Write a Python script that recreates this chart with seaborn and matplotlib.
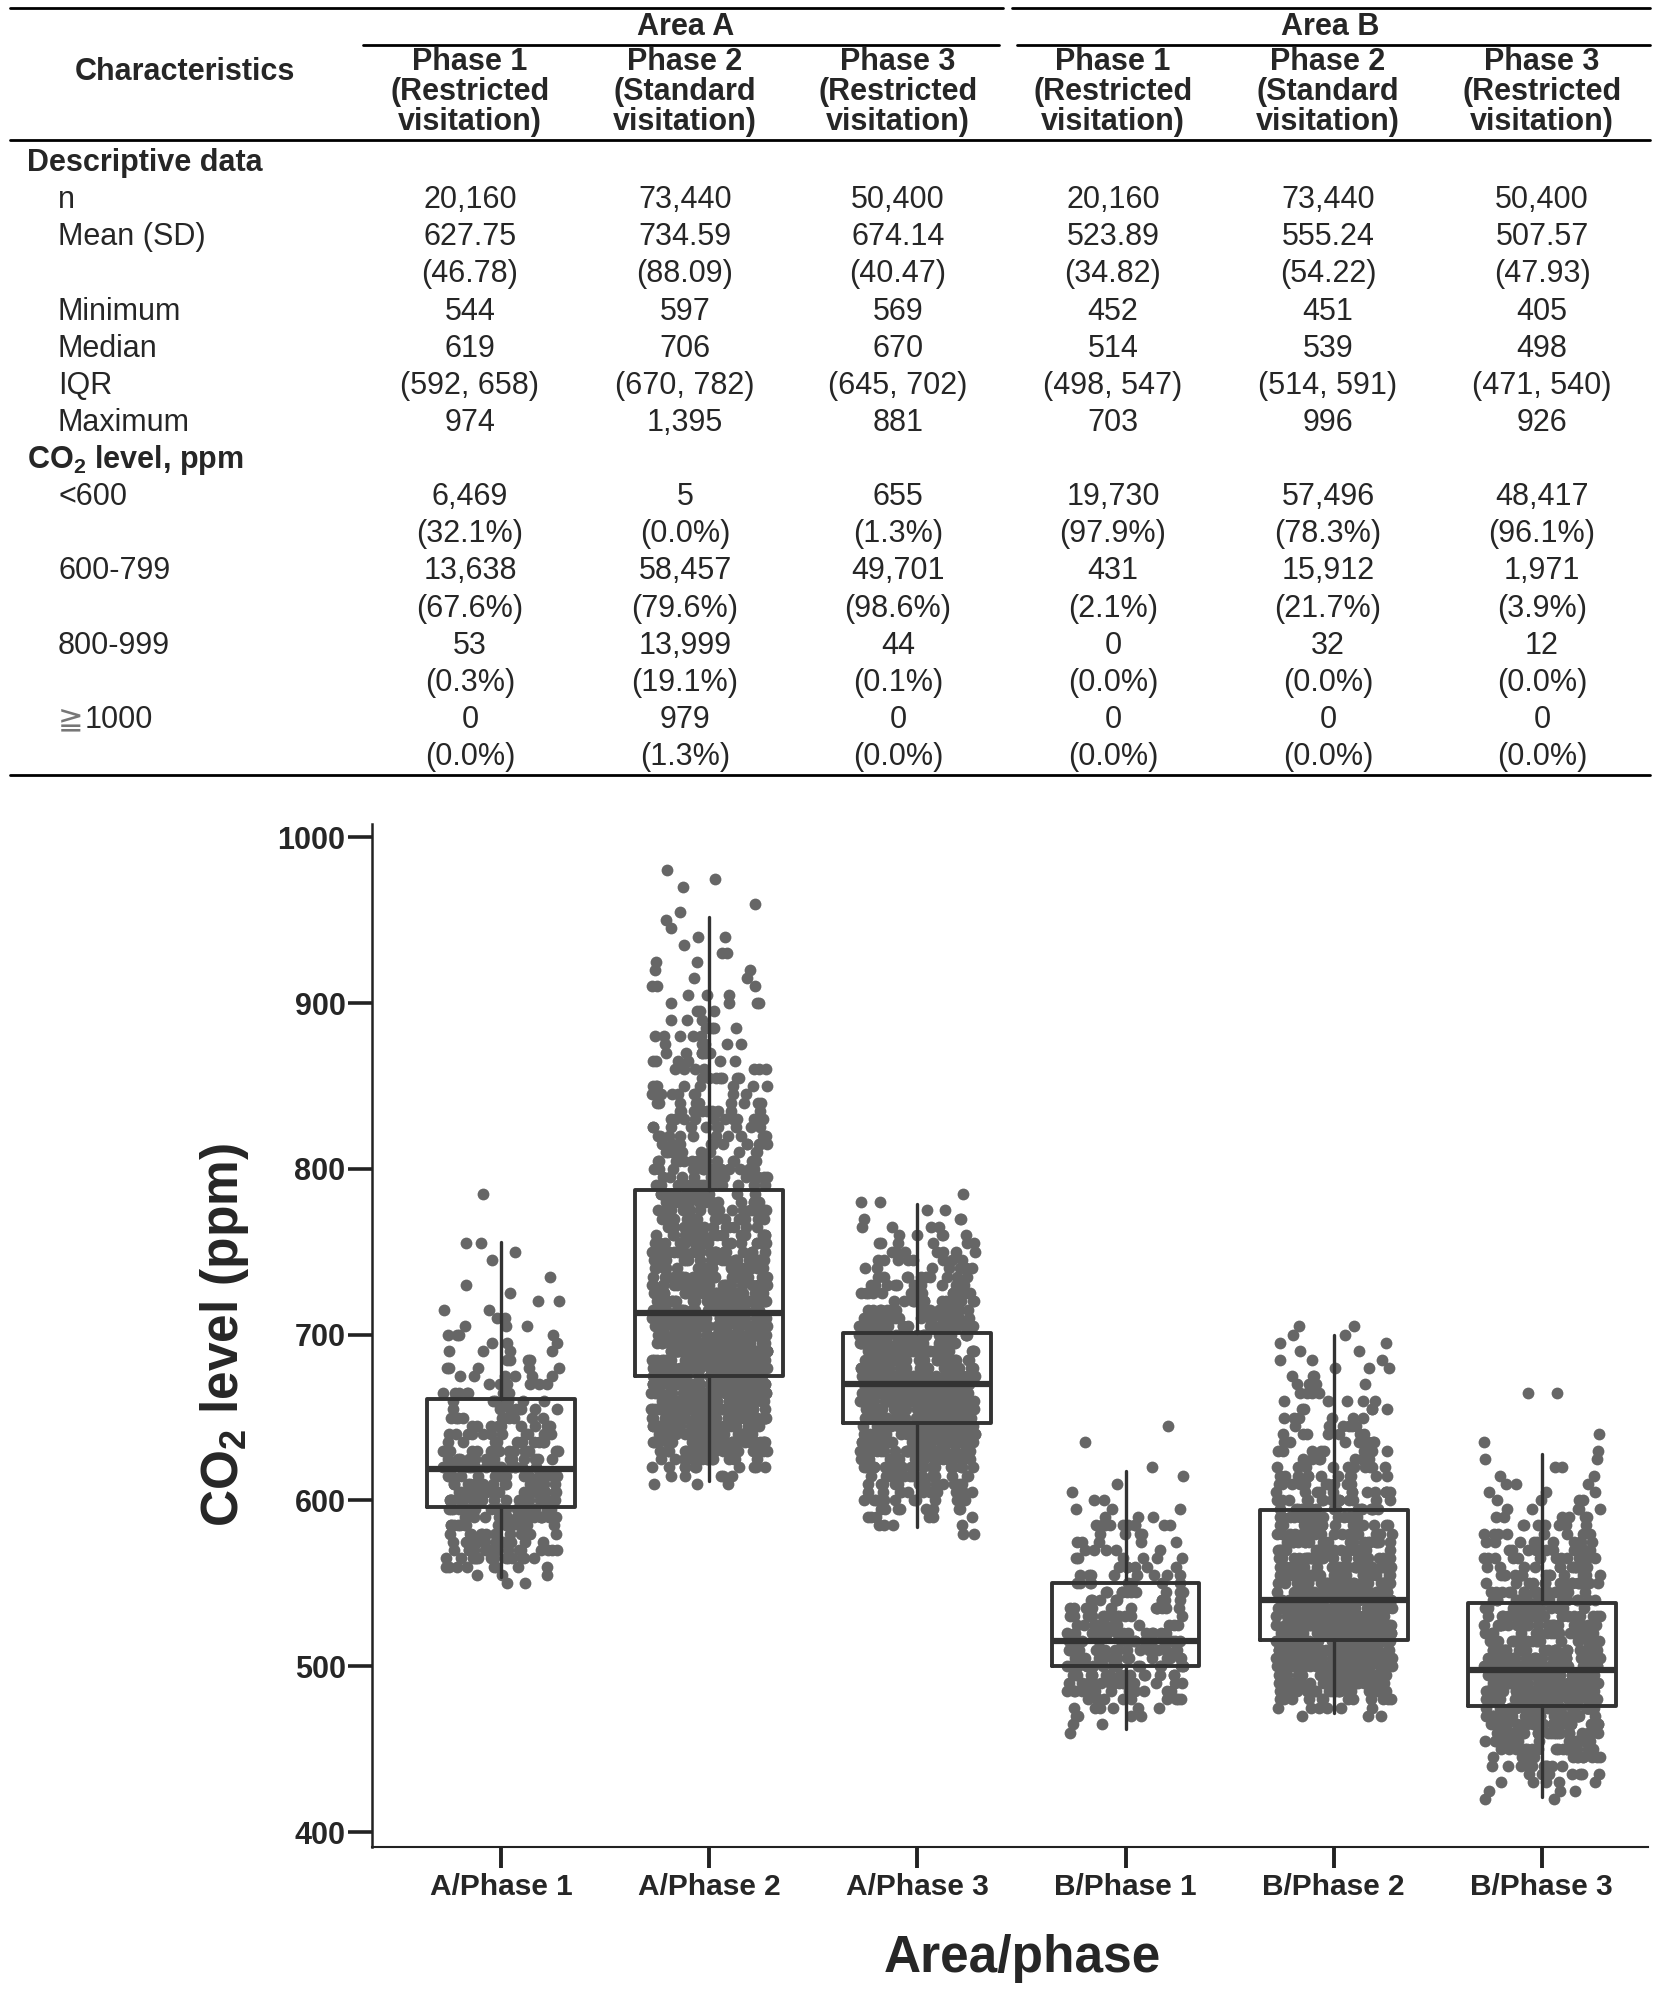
import numpy as np
import pandas as pd
import matplotlib
matplotlib.use('Agg')
import matplotlib.pyplot as plt
import seaborn as sns
from matplotlib.lines import Line2D

# ---- data for the box plot ----
groups = ['A/Phase 1', 'A/Phase 2', 'A/Phase 3', 'B/Phase 1', 'B/Phase 2', 'B/Phase 3']

box_q1 = [596, 675, 647, 500, 516, 476]
box_med = [619, 713, 670, 515, 540, 498]
box_q3 = [661, 787, 701, 550, 594, 538]
whisk_lo = [554, 612, 584, 462, 472, 421]
whisk_hi = [756, 952, 779, 618, 700, 628]

# jittered points: number of points read at each 5 ppm level
a1_start = 550
a1_counts = [2, 3, 8, 14, 16, 14, 14, 16, 18, 20, 20, 20, 18, 20, 20, 16, 14, 12, 12, 10,
             10, 8, 8, 7, 6, 6, 5, 4, 4, 3, 4, 3, 2, 2, 2, 1, 1, 1, 0, 1, 1, 2, 0, 0, 0, 0, 0, 1]
a2_start = 610
a2_counts = [3, 5, 10, 15, 22, 28, 32, 36, 40, 42, 44, 46, 46, 46, 46, 44, 42, 42, 40, 40,
             38, 36, 34, 30, 28, 26, 24, 22, 22, 20, 20, 18, 18, 16, 16, 15, 15, 14, 14, 13,
             12, 12, 11, 10, 10, 9, 9, 8, 8, 7, 7, 6, 6, 5, 5, 4, 3, 3, 4, 3,
             3, 2, 2, 2, 2, 1, 2, 1, 1, 1, 1, 0, 1, 1, 1]
a3_start = 580
a3_counts = [2, 4, 6, 8, 10, 12, 14, 16, 18, 22, 26, 30, 32, 34, 36, 38, 38, 38, 38, 36,
             34, 32, 28, 26, 24, 22, 20, 18, 16, 14, 12, 10, 9, 8, 7, 6, 5, 4, 3, 2, 2, 1]
b1_start = 460
b1_counts = [1, 2, 4, 6, 10, 12, 14, 16, 18, 18, 18, 18, 16, 14, 12, 12, 10, 10, 8, 8,
             6, 6, 5, 5, 4, 10, 3, 3, 2, 1, 1, 1, 1, 0, 0, 1, 0, 1]
b2_start = 470
b2_counts = [3, 6, 12, 20, 28, 34, 40, 44, 46, 48, 48, 46, 44, 40, 36, 32, 30, 28, 26, 24,
             22, 20, 18, 17, 16, 15, 14, 13, 12, 11, 10, 9, 8, 8, 7, 6, 6, 5, 5, 4,
             4, 3, 3, 3, 2, 2, 2, 2]
b3_start = 420
b3_counts = [2, 3, 5, 7, 10, 13, 16, 20, 24, 28, 32, 34, 36, 36, 36, 34, 32, 30, 28, 26,
             24, 22, 20, 18, 18, 16, 15, 14, 13, 12, 11, 10, 8, 7, 6, 5, 4, 3, 3, 2,
             2, 2, 1, 1, 1, 0, 0, 0, 0, 2]

# ---- data for the table ----
area_labels = ['Area A', 'Area B']
phase_head = [['Phase 1', '(Restricted', 'visitation)'],
              ['Phase 2', '(Standard', 'visitation)'],
              ['Phase 3', '(Restricted', 'visitation)']] * 2
n_vals = ['20,160', '73,440', '50,400', '20,160', '73,440', '50,400']
mean_vals = ['627.75', '734.59', '674.14', '523.89', '555.24', '507.57']
sd_vals = ['(46.78)', '(88.09)', '(40.47)', '(34.82)', '(54.22)', '(47.93)']
min_vals = ['544', '597', '569', '452', '451', '405']
median_vals = ['619', '706', '670', '514', '539', '498']
iqr_vals = ['(592, 658)', '(670, 782)', '(645, 702)', '(498, 547)', '(514, 591)', '(471, 540)']
max_vals = ['974', '1,395', '881', '703', '996', '926']
lt600_n = ['6,469', '5', '655', '19,730', '57,496', '48,417']
lt600_p = ['(32.1%)', '(0.0%)', '(1.3%)', '(97.9%)', '(78.3%)', '(96.1%)']
r600_n = ['13,638', '58,457', '49,701', '431', '15,912', '1,971']
r600_p = ['(67.6%)', '(79.6%)', '(98.6%)', '(2.1%)', '(21.7%)', '(3.9%)']
r800_n = ['53', '13,999', '44', '0', '32', '12']
r800_p = ['(0.3%)', '(19.1%)', '(0.1%)', '(0.0%)', '(0.0%)', '(0.0%)']
ge1000_n = ['0', '979', '0', '0', '0', '0']
ge1000_p = ['(0.0%)', '(1.3%)', '(0.0%)', '(0.0%)', '(0.0%)', '(0.0%)']

table_rows = [
    ('Descriptive data', None, True),
    ('n', n_vals, False),
    ('Mean (SD)', mean_vals, False),
    ('', sd_vals, False),
    ('Minimum', min_vals, False),
    ('Median', median_vals, False),
    ('IQR', iqr_vals, False),
    ('Maximum', max_vals, False),
    ('CO$_\\mathbf{2}$ level, ppm', None, True),
    ('<600', lt600_n, False),
    ('', lt600_p, False),
    ('600-799', r600_n, False),
    ('', r600_p, False),
    ('800-999', r800_n, False),
    ('', r800_p, False),
    ('GE', ge1000_n, False),
    ('', ge1000_p, False),
]

# build long table for seaborn
starts = [a1_start, a2_start, a3_start, b1_start, b2_start, b3_start]
counts = [a1_counts, a2_counts, a3_counts, b1_counts, b2_counts, b3_counts]
frames = []
for g, s, c in zip(groups, starts, counts):
    lv = np.arange(s, s + 5 * len(c), 5)
    frames.append(pd.DataFrame({'group': g, 'co2': np.repeat(lv, c)}))
df = pd.concat(frames, ignore_index=True)

sns.set_style('white')
plt.rcParams['font.family'] = ['Liberation Sans', 'DejaVu Sans']
plt.rcParams['mathtext.fontset'] = 'custom'
plt.rcParams['mathtext.rm'] = 'Liberation Sans'
plt.rcParams['mathtext.bf'] = 'Liberation Sans:bold'

fig = plt.figure(figsize=(16.78, 19.98), dpi=100)

# ---- table (drawn in pixel coordinates) ----
tab = fig.add_axes([0, 0, 1, 1])
tab.set_xlim(0, 1678)
tab.set_ylim(1998, 0)
tab.axis('off')

col_x = [470, 685, 898, 1113, 1328, 1542]
fs = 22
lw_t = 2.0
tab.add_line(Line2D([10, 1003], [8, 8], color='black', lw=lw_t))
tab.add_line(Line2D([1012, 1650], [8, 8], color='black', lw=lw_t))
tab.add_line(Line2D([363, 999], [45, 45], color='black', lw=lw_t))
tab.add_line(Line2D([1017, 1650], [45, 45], color='black', lw=lw_t))
tab.add_line(Line2D([10, 1650], [140, 140], color='black', lw=lw_t))
tab.add_line(Line2D([10, 1650], [775, 775], color='black', lw=lw_t))

tab.text(686, 27, area_labels[0], ha='center', va='center', fontsize=fs, fontweight='bold')
tab.text(1330, 27, area_labels[1], ha='center', va='center', fontsize=fs, fontweight='bold')
tab.text(185, 72, 'Characteristics', ha='center', va='center', fontsize=fs, fontweight='bold')
for x, lines in zip(col_x, phase_head):
    for y, t in zip([62, 92, 122], lines):
        tab.text(x, y, t, ha='center', va='center', fontsize=fs, fontweight='bold')

for i, (label, vals, head) in enumerate(table_rows):
    y = 163 + 37.125 * i
    if head:
        tab.text(27, y, label, ha='left', va='center', fontsize=fs, fontweight='bold')
    elif label == 'GE':
        tab.text(58, y, '\u2267', ha='left', va='center', fontsize=fs, color='#777777',
                 family=['DejaVu Sans', 'Noto Sans CJK JP'])
        tab.text(85, y, '1000', ha='left', va='center', fontsize=fs)
    else:
        tab.text(58, y, label, ha='left', va='center', fontsize=fs)
    if vals is not None:
        for x, v in zip(col_x, vals):
            tab.text(x, y, v, ha='center', va='center', fontsize=fs)

# ---- box plot with points ----
ax = fig.add_axes([0.2217, 0.0756, 0.7604, 0.512])
np.random.seed(3)
sns.stripplot(data=df, x='group', y='co2', order=groups, color='#666666', size=8.5,
              jitter=0.28, linewidth=0, ax=ax, zorder=2)

stats = []
for i, g in enumerate(groups):
    stats.append({'label': g, 'q1': box_q1[i], 'med': box_med[i], 'q3': box_q3[i],
                  'whislo': whisk_lo[i], 'whishi': whisk_hi[i]})
ax.bxp(stats, positions=range(len(groups)), widths=0.71, showfliers=False, showcaps=False,
       manage_ticks=False,
       boxprops=dict(color='#333333', linewidth=2.8, zorder=3),
       medianprops=dict(color='#333333', linewidth=4.5, zorder=3),
       whiskerprops=dict(color='#333333', linewidth=2.4, zorder=3))

ax.set_xlim(-0.62, 5.51)
ax.set_ylim(391, 1008)
ax.set_yticks([400, 500, 600, 700, 800, 900, 1000])
sns.despine(ax=ax)
ax.spines['left'].set_linewidth(1.8)
ax.spines['bottom'].set_linewidth(1.5)
ax.spines['left'].set_color('#222222')
ax.spines['bottom'].set_color('#222222')
ax.tick_params(axis='y', left=True, length=17, width=2.6, direction='out', pad=2,
               labelsize=22, color='#222222')
ax.tick_params(axis='x', bottom=True, length=15, width=2.8, direction='out', pad=4,
               labelsize=21.5, color='#222222')
for lab in ax.get_xticklabels() + ax.get_yticklabels():
    lab.set_fontweight('bold')

ax.set_ylabel('CO$_\\mathbf{2}$ level (ppm)', fontsize=37, fontweight='bold')
ax.set_xlabel('Area/phase', fontsize=37, fontweight='bold')
ax.yaxis.set_label_coords(-0.095, 0.5)
ax.xaxis.set_label_coords(0.51, -0.085)

fig.savefig('out.png', dpi=100)
